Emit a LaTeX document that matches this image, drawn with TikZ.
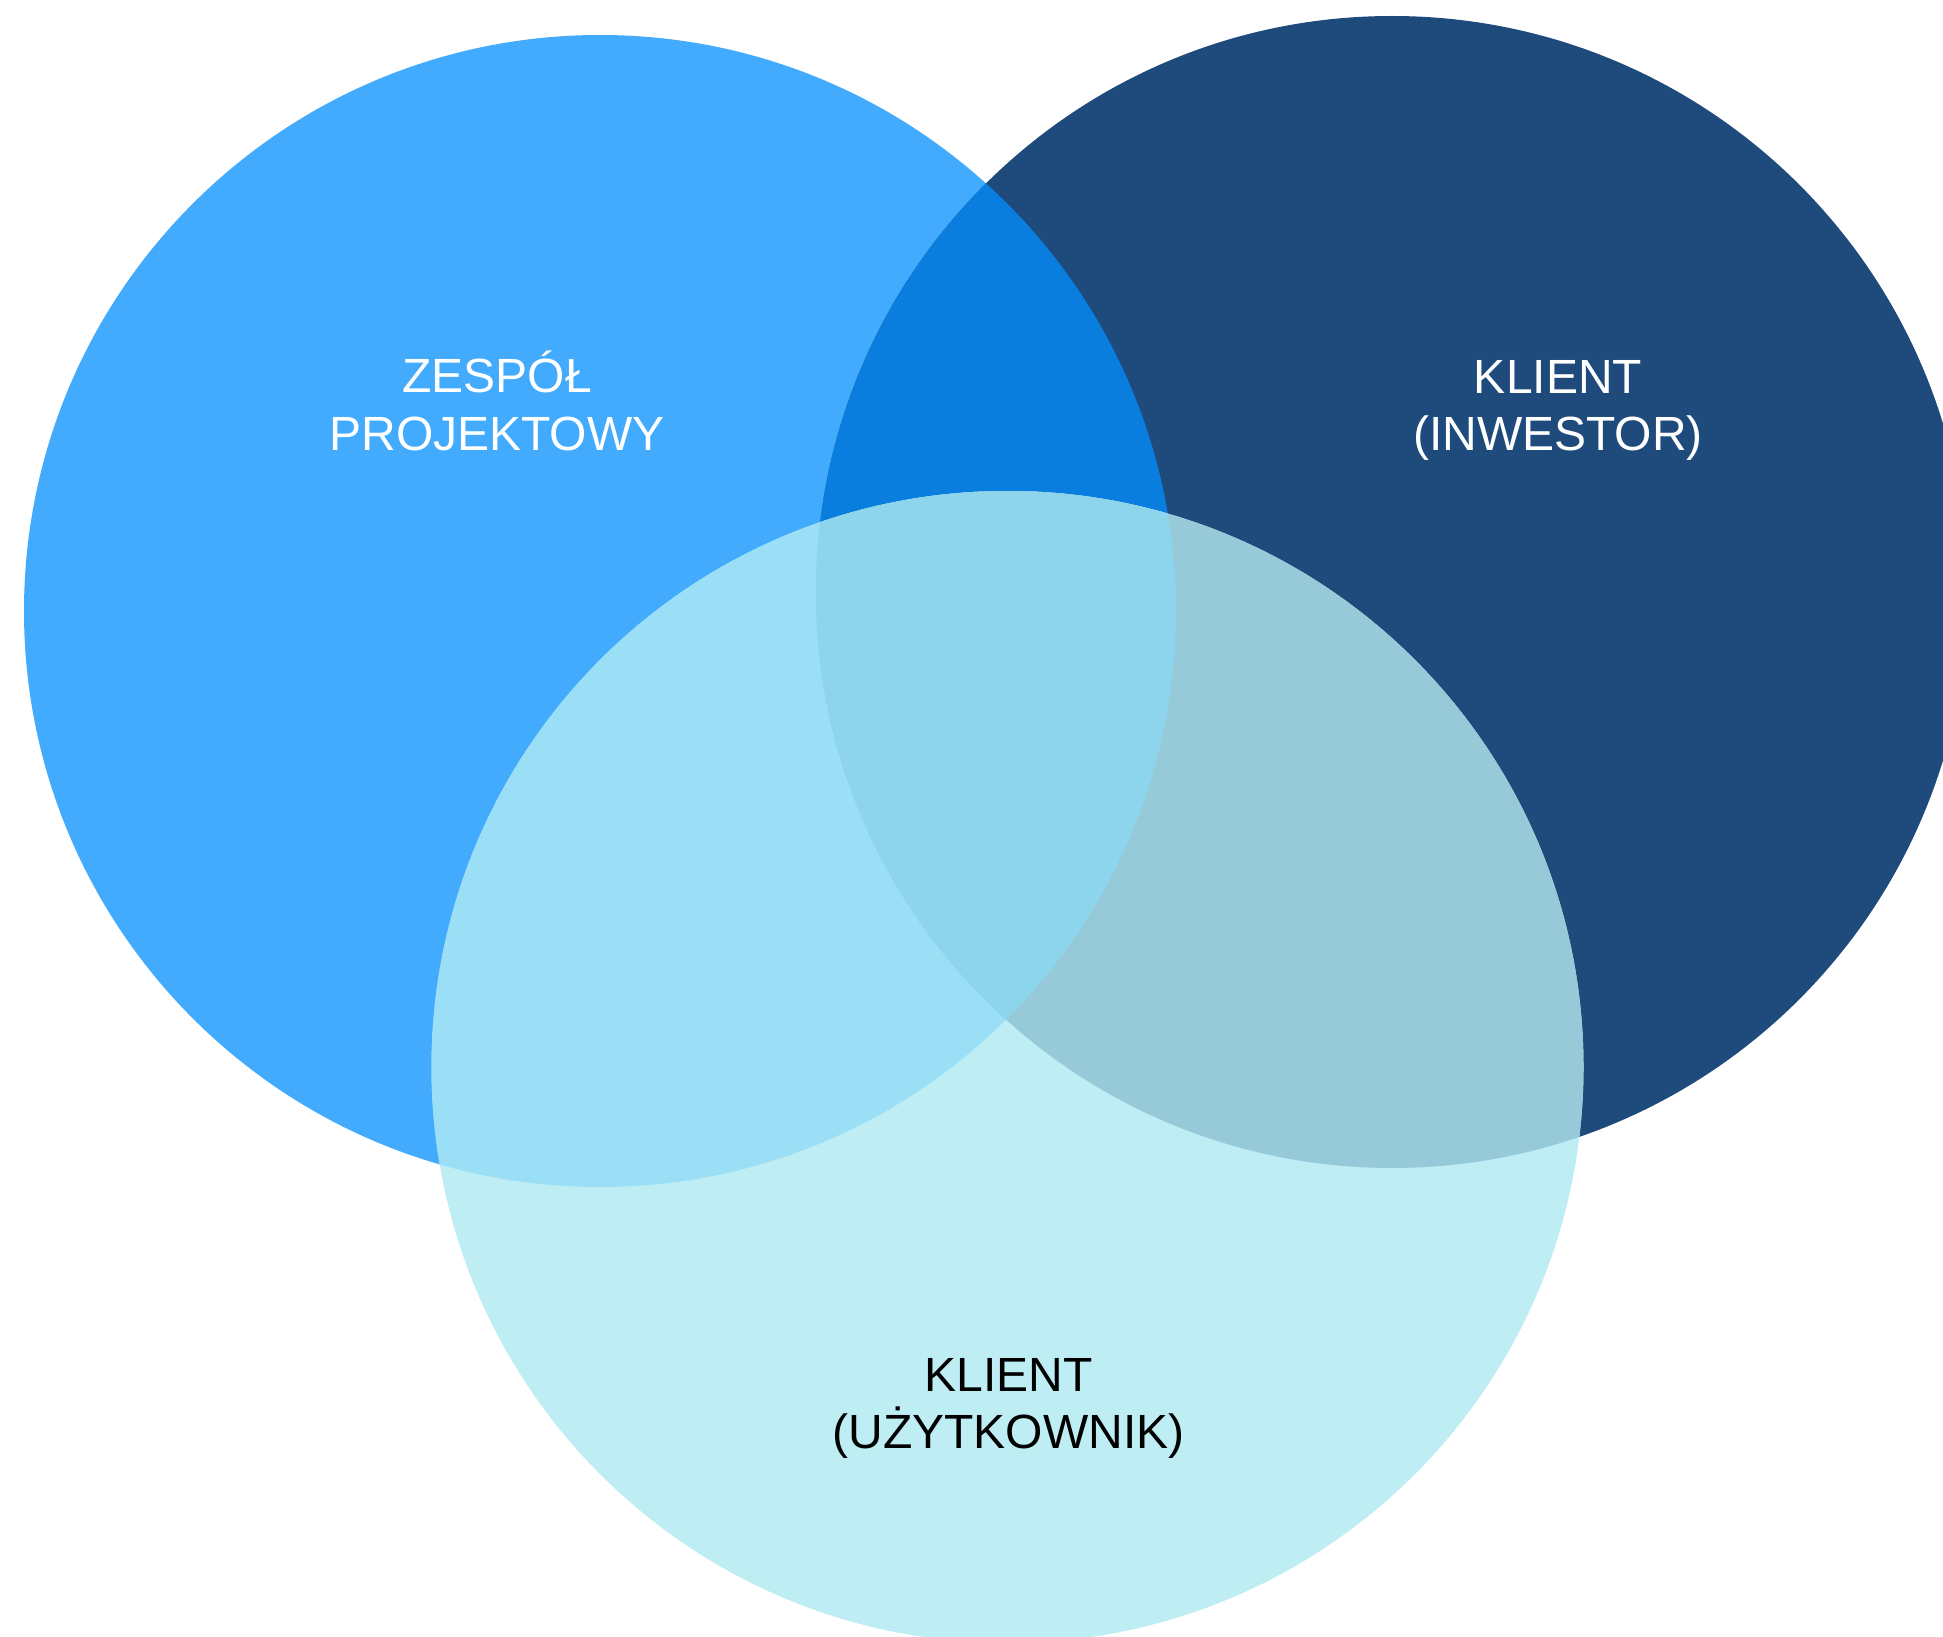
\documentclass[tikz,border=0pt]{standalone}
\usepackage{fontspec}
\setmainfont{Liberation Sans}
\definecolor{cL}{HTML}{42ABFD}
\definecolor{cR}{HTML}{1F4A7C}
\definecolor{cLR}{HTML}{097EDF}
\definecolor{cB}{HTML}{BEEDF4}
\definecolor{cBL}{HTML}{9ADFF5}
\definecolor{cBR}{HTML}{96CAD9}
\definecolor{cBLR}{HTML}{8DD5EC}
\begin{document}
\begin{tikzpicture}[x=0.5pt,y=-0.5pt,
  lbl/.style={anchor=base,inner sep=0pt,font=\fontsize{24}{28}\selectfont},
  wlbl/.style={lbl,text=white},
  blbl/.style={lbl,text=black}]
\useasboundingbox (0,0) rectangle (1943,1637);
\clip (0,0) rectangle (1943,1637);
\fill[cL] (600,611) circle[radius=576];
\fill[cR] (1392,592) circle[radius=576];
\begin{scope}
  \clip (600,611) circle[radius=576];
  \fill[cLR] (1392,592) circle[radius=576];
\end{scope}
\fill[cB] (1007.5,1067) circle[radius=576];
\begin{scope}
  \clip (1007.5,1067) circle[radius=576];
  \fill[cBL] (600,611) circle[radius=576];
  \fill[cBR] (1392,592) circle[radius=576];
  \clip (600,611) circle[radius=576];
  \fill[cBLR] (1392,592) circle[radius=576];
\end{scope}
\node[wlbl] (zes1) at (497,392) {ZESPÓŁ};
\node[wlbl] (zes2) at (497,450) {PROJEKTOWY};
\node[wlbl] (inw1) at (1558,393) {KLIENT};
\node[wlbl] (inw2) at (1558,450) {(INWESTOR)};
\node[blbl] (uzy1) at (1008.5,1391) {KLIENT};
\node[blbl] (uzy2) at (1008.5,1448) {(UŻYTKOWNIK)};
\end{tikzpicture}
\end{document}
